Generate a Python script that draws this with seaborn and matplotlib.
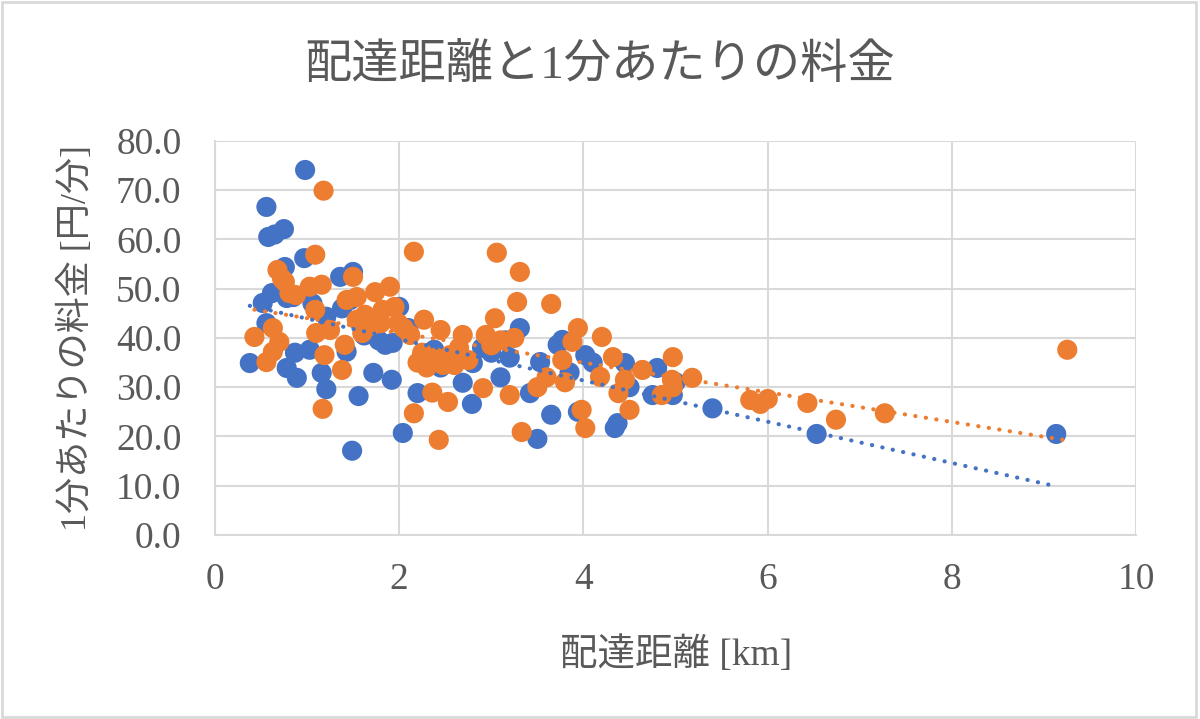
import pandas as pd
import matplotlib
matplotlib.use("Agg")
import matplotlib.pyplot as plt
from matplotlib.patches import Rectangle
from matplotlib.ticker import FormatStrFormatter
import seaborn as sns

# ================= データ =================
TITLE = "配達距離と1分あたりの料金"
X_LABEL = "配達距離 [km]"
Y_LABEL = "1分あたりの料金 [円/分]"
SERIES_NAMES = ["系列1", "系列2"]
SERIES_COLORS = ["#4472C4", "#ED7D31"]

blue_x = [0.38, 0.52, 0.56, 0.58, 0.65, 0.75, 0.56, 0.62, 0.76, 0.78,
          0.85, 0.78, 0.89, 0.87, 0.97, 0.98, 1.03, 1.06, 1.16, 1.21,
          1.21, 1.36, 1.38, 1.43, 1.49, 1.50, 1.47, 1.56, 1.62, 1.72,
          1.78, 1.85, 1.92, 1.93, 2.00, 2.04, 2.10, 2.20, 2.25, 2.38,
          2.45, 2.55, 2.69, 2.79, 2.80, 2.90, 3.00, 3.10, 3.15, 3.20,
          3.31, 3.42, 3.50, 3.53, 3.65, 3.72, 3.77, 3.85, 3.94, 4.02,
          4.10, 4.34, 4.37, 4.45, 4.50, 4.75, 4.80, 4.97, 5.00, 5.40,
          6.53, 9.13]
blue_y = [34.9, 47.1, 66.6, 60.5, 61.0, 62.1, 43.0, 49.1, 54.4, 48.1,
          48.3, 33.9, 31.9, 37.0, 56.2, 74.1, 37.6, 47.0, 32.9, 29.6,
          44.3, 52.4, 46.0, 37.2, 17.1, 53.4, 47.7, 28.2, 40.5, 32.9,
          39.5, 38.6, 31.5, 39.0, 46.3, 20.7, 42.0, 28.8, 36.5, 37.6,
          34.0, 35.5, 30.9, 26.6, 34.9, 38.0, 37.0, 32.0, 39.5, 36.0,
          42.0, 28.8, 19.5, 35.1, 24.4, 38.6, 39.6, 33.0, 25.0, 36.5,
          35.0, 21.7, 22.7, 34.9, 30.0, 28.4, 33.9, 28.4, 31.0, 25.7,
          20.5, 20.5]

orange_x = [0.43, 0.56, 0.63, 0.63, 0.68, 0.70, 0.73, 0.76, 0.81, 0.88,
            1.03, 1.09, 1.09, 1.10, 1.16, 1.17, 1.18, 1.19, 1.25, 1.38,
            1.41, 1.43, 1.50, 1.54, 1.54, 1.60, 1.63, 1.70, 1.74, 1.80,
            1.82, 1.90, 1.95, 1.99, 2.05, 2.12, 2.16, 2.16, 2.20, 2.25,
            2.27, 2.30, 2.36, 2.40, 2.43, 2.45, 2.48, 2.53, 2.55, 2.60,
            2.65, 2.69, 2.75, 2.91, 2.94, 3.00, 3.04, 3.06, 3.10, 3.20,
            3.25, 3.28, 3.31, 3.33, 3.50, 3.60, 3.65, 3.77, 3.80, 3.88,
            3.94, 3.98, 4.02, 4.18, 4.20, 4.32, 4.38, 4.45, 4.50, 4.64,
            4.85, 4.96, 4.97, 4.97, 5.18, 5.81, 5.92, 6.00, 6.43, 6.74,
            7.27, 9.25]
orange_y = [40.2, 35.1, 42.0, 37.2, 53.8, 39.2, 52.0, 51.4, 49.1, 48.7,
            50.4, 56.9, 45.7, 41.0, 50.8, 25.6, 69.9, 36.5, 41.6, 33.5,
            38.6, 47.7, 52.4, 48.3, 43.7, 41.0, 44.7, 42.5, 49.3, 43.0,
            45.7, 50.4, 46.3, 43.0, 42.0, 40.6, 57.5, 24.7, 35.0, 37.0,
            43.7, 34.0, 28.9, 36.0, 19.3, 41.6, 34.5, 27.0, 36.5, 34.5,
            38.0, 40.6, 35.5, 29.8, 40.6, 38.5, 44.0, 57.3, 39.5, 28.4,
            40.0, 47.3, 53.4, 20.9, 30.0, 32.0, 46.9, 35.5, 31.0, 39.2,
            42.0, 25.4, 21.7, 32.1, 40.2, 36.1, 28.8, 31.5, 25.4, 33.5,
            28.4, 31.5, 36.1, 30.0, 31.9, 27.4, 26.6, 27.6, 26.8, 23.4,
            24.7, 37.6]

X_TICKS = [0, 2, 4, 6, 8, 10]
Y_TICKS = [0, 10, 20, 30, 40, 50, 60, 70, 80]

# ================= スタイル =================
TEXT_COLOR = "#595959"
GRID_COLOR = "#d9d9d9"

sns.set_style("white")
plt.rcParams['font.family'] = ['Liberation Serif', 'Noto Sans CJK JP']

df = pd.concat([
    pd.DataFrame({"x": blue_x, "y": blue_y, "series": SERIES_NAMES[0]}),
    pd.DataFrame({"x": orange_x, "y": orange_y, "series": SERIES_NAMES[1]}),
], ignore_index=True)

fig = plt.figure(figsize=(12, 7.19), dpi=100)
ax = fig.add_axes([0.179, 0.256, 0.768, 0.548])

sns.scatterplot(data=df, x="x", y="y", hue="series", hue_order=SERIES_NAMES,
                palette=SERIES_COLORS, s=210, linewidth=0, alpha=1.0,
                legend=False, ax=ax, zorder=3)

# 線形近似 (点線)
for name, color in zip(SERIES_NAMES, SERIES_COLORS):
    sub = df[df["series"] == name]
    sns.regplot(data=sub, x="x", y="y", scatter=False, ci=None, ax=ax,
                color=color,
                line_kws=dict(lw=3.0, linestyle=(0, (0.05, 2.5)),
                              dash_capstyle="round", zorder=4))

ax.set_xlim(0, 10)
ax.set_ylim(0, 80)
ax.set_xticks(X_TICKS)
ax.set_yticks(Y_TICKS)
ax.yaxis.set_major_formatter(FormatStrFormatter("%.1f"))
ax.grid(True, color=GRID_COLOR, lw=1.5)
ax.set_axisbelow(True)
for side in ["top", "right"]:
    ax.spines[side].set_visible(False)
for side in ["left", "bottom"]:
    ax.spines[side].set_color(GRID_COLOR)
    ax.spines[side].set_linewidth(1.5)

ax.tick_params(axis="both", length=0, labelsize=27, labelcolor=TEXT_COLOR)
ax.tick_params(axis="y", pad=24)
ax.tick_params(axis="x", pad=20)

ax.set_xlabel(X_LABEL, fontsize=27, color=TEXT_COLOR, labelpad=28)
ax.set_ylabel(Y_LABEL, fontsize=26, color=TEXT_COLOR, labelpad=16)
fig.text(0.5, 0.908, TITLE, ha="center", va="center", fontsize=34,
         color=TEXT_COLOR)

# グラフエリアの枠
fig.patches.append(Rectangle((0.002, 0.003), 0.995, 0.994,
                             transform=fig.transFigure, fill=False,
                             edgecolor=GRID_COLOR, lw=2))

fig.savefig("out.png", dpi=100)
plt.close(fig)
